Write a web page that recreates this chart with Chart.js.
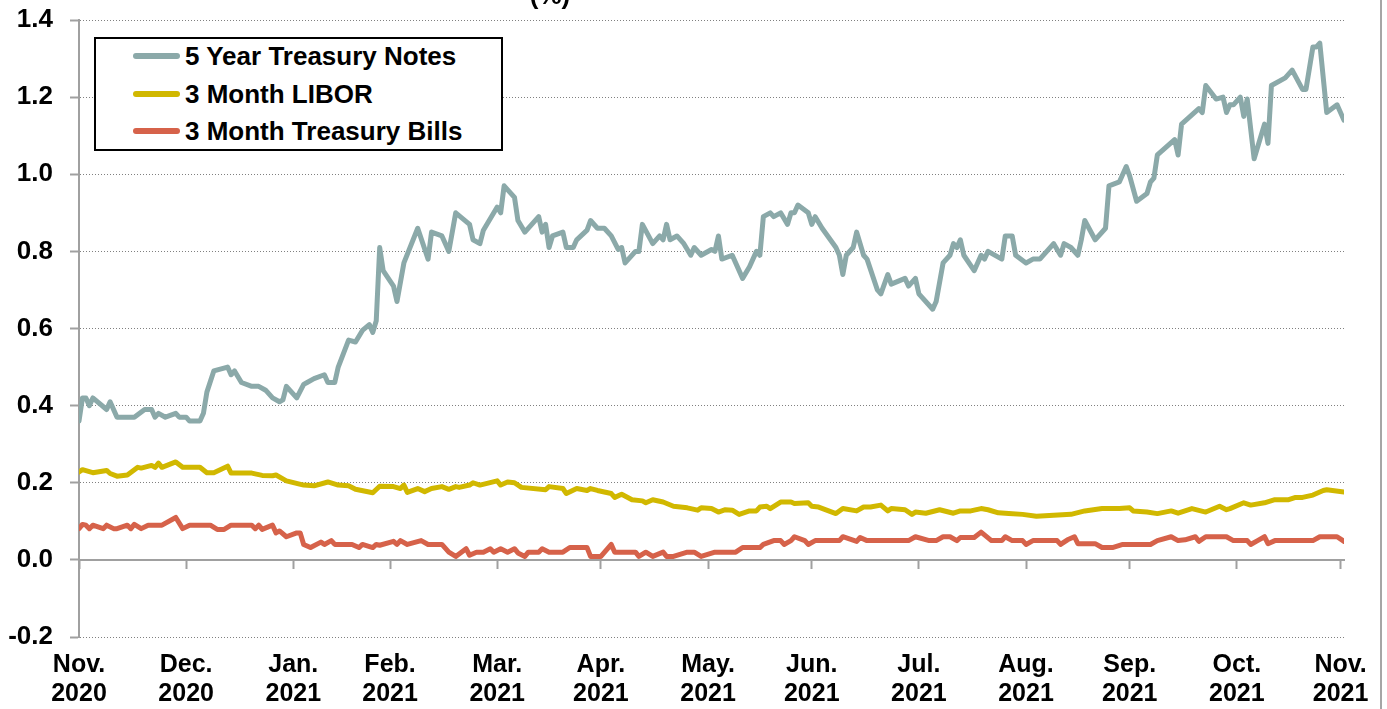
<!DOCTYPE html>
<html>
<head>
<meta charset="utf-8">
<script src="https://cdn.jsdelivr.net/npm/chart.js@4/dist/chart.umd.min.js"></script>
<style>
  html, body { margin: 0; padding: 0; background: #fff; }
  #wrap { position: relative; width: 1387px; height: 709px; overflow: hidden; background: #fff; }
  #chart { position: absolute; left: 0; top: 0; }
  #frame { position: absolute; left: 1380px; top: 0; width: 2px; height: 709px; background: #a6a6a6; }
  #title { position: absolute; top: -18px; left: 450px; width: 200px; text-align: center;
           font: bold 26px "Liberation Sans", Arial, sans-serif; line-height: 26px; color: #000; }
  #legend { position: absolute; left: 94px; top: 37px; width: 405px; height: 110px;
            border: 2px solid #000; background: #fff; box-sizing: content-box; }
  .row { position: absolute; left: 0; height: 30px; width: 100%; }
  .sw { position: absolute; left: 37px; top: 12px; width: 47px; height: 6px; border-radius: 3px; }
  .lb { position: absolute; left: 89px; top: 0; line-height: 30px; white-space: nowrap;
        font: bold 26px "Liberation Sans", Arial, sans-serif; color: #000; }
</style>
</head>
<body>
<div id="wrap">
  <canvas id="chart" width="1387" height="709"></canvas>
  <div id="title">(%)</div>
  <div id="legend"></div>
  <div id="frame"></div>
</div>
<script>
// ---- Data (x = days from the "Nov. 2020" tick) ----
const seriesNames = ["5 Year Treasury Notes", "3 Month LIBOR", "3 Month Treasury Bills"];

const monthTicks = [0, 31, 62, 90, 121, 151, 182, 212, 243, 274, 304, 335, 365];
const monthLabels = [
  ["Nov.", "2020"], ["Dec.", "2020"], ["Jan.", "2021"], ["Feb.", "2021"], ["Mar.", "2021"],
  ["Apr.", "2021"], ["May.", "2021"], ["Jun.", "2021"], ["Jul.", "2021"], ["Aug.", "2021"],
  ["Sep.", "2021"], ["Oct.", "2021"], ["Nov.", "2021"]
];

const noteDays = [0,1,2,3,4,8,9,11,16,19,21,22,23,25,28,29,31,32,35,36,37,39,43,44,45,47,50,52,54,56,58,59,60,63,65,66,68,71,72,74,75,78,80,82,84,85,86,87,88,91,92,94,98,101,102,105,107,109,113,114,116,117,121,122,123,126,127,129,131,133,134,135,136,137,140,141,143,144,147,148,150,152,154,156,157,158,161,162,163,166,168,169,170,171,173,175,177,178,180,183,184,185,186,189,192,194,196,197,198,200,201,203,205,206,207,208,211,212,213,215,219,220,221,222,224,225,227,228,231,232,234,235,239,240,242,243,247,248,250,252,253,254,255,256,259,261,262,263,267,268,270,271,274,276,278,282,284,285,287,289,290,291,294,297,298,301,303,304,306,309,310,311,312,317,318,319,324,325,326,329,331,332,333,334,336,337,338,340,343,344,345,349,351,354,355,357,358,359,361,364,366];
const noteVals = [0.36,0.42,0.42,0.40,0.42,0.39,0.41,0.37,0.37,0.39,0.39,0.37,0.38,0.37,0.38,0.37,0.37,0.36,0.36,0.38,0.435,0.49,0.50,0.48,0.49,0.46,0.45,0.45,0.44,0.42,0.41,0.415,0.45,0.42,0.455,0.46,0.47,0.48,0.46,0.46,0.50,0.57,0.565,0.595,0.61,0.59,0.62,0.81,0.75,0.71,0.67,0.77,0.86,0.78,0.85,0.84,0.80,0.90,0.87,0.83,0.82,0.855,0.915,0.90,0.97,0.94,0.88,0.85,0.87,0.89,0.85,0.87,0.81,0.84,0.85,0.81,0.81,0.83,0.855,0.88,0.86,0.86,0.84,0.805,0.81,0.77,0.80,0.80,0.87,0.82,0.84,0.83,0.87,0.83,0.84,0.82,0.79,0.81,0.79,0.805,0.80,0.84,0.78,0.79,0.73,0.76,0.80,0.79,0.89,0.90,0.89,0.90,0.87,0.90,0.90,0.92,0.90,0.87,0.89,0.86,0.81,0.79,0.74,0.79,0.81,0.85,0.79,0.78,0.70,0.69,0.74,0.715,0.73,0.71,0.73,0.69,0.65,0.67,0.77,0.79,0.82,0.81,0.83,0.79,0.75,0.79,0.78,0.80,0.78,0.84,0.84,0.79,0.77,0.78,0.78,0.82,0.79,0.82,0.81,0.79,0.83,0.88,0.83,0.86,0.97,0.98,1.02,0.995,0.93,0.95,0.98,0.99,1.05,1.09,1.05,1.13,1.17,1.16,1.23,1.195,1.20,1.16,1.18,1.18,1.20,1.15,1.195,1.04,1.13,1.08,1.23,1.25,1.27,1.22,1.22,1.33,1.33,1.34,1.16,1.18,1.14];

const liborDays = [0,1,4,8,9,11,14,17,18,21,22,23,24,28,30,35,37,39,43,44,50,53,56,57,60,65,68,72,75,78,80,85,87,91,93,94,95,98,100,102,105,107,109,110,113,114,116,121,122,124,126,128,135,136,140,141,144,147,148,150,154,155,157,160,163,164,166,169,172,176,179,180,183,185,187,189,191,194,196,197,199,200,203,206,207,211,212,214,219,221,225,227,229,232,234,235,239,241,242,245,249,253,255,258,261,263,266,269,273,277,282,287,291,296,301,304,305,309,312,316,318,322,326,330,332,333,337,339,343,346,350,352,354,357,360,361,366];
const liborVals = [0.228,0.234,0.226,0.232,0.224,0.217,0.22,0.24,0.238,0.245,0.24,0.251,0.24,0.254,0.24,0.24,0.226,0.226,0.243,0.225,0.225,0.219,0.218,0.22,0.205,0.194,0.192,0.202,0.194,0.192,0.183,0.174,0.191,0.19,0.185,0.194,0.175,0.185,0.177,0.185,0.19,0.183,0.19,0.188,0.194,0.2,0.194,0.205,0.194,0.202,0.2,0.188,0.182,0.19,0.185,0.172,0.185,0.18,0.185,0.18,0.172,0.162,0.17,0.156,0.153,0.148,0.156,0.15,0.139,0.135,0.129,0.135,0.133,0.124,0.13,0.129,0.118,0.127,0.127,0.137,0.139,0.133,0.15,0.15,0.146,0.148,0.139,0.137,0.12,0.133,0.127,0.137,0.137,0.142,0.127,0.133,0.13,0.118,0.124,0.121,0.13,0.121,0.127,0.127,0.133,0.13,0.122,0.12,0.118,0.113,0.116,0.118,0.127,0.133,0.133,0.135,0.127,0.124,0.12,0.127,0.121,0.133,0.124,0.139,0.13,0.133,0.148,0.142,0.148,0.156,0.156,0.162,0.162,0.168,0.18,0.182,0.176];

const billDays = [0,1,2,3,4,7,8,10,11,14,15,16,18,20,24,28,30,32,38,40,42,44,50,51,52,53,56,57,58,60,63,64,65,67,70,71,73,74,79,81,82,85,86,87,91,92,93,95,99,101,105,107,109,112,113,115,117,119,120,122,124,126,127,129,130,133,134,136,140,142,147,148,151,154,155,161,162,164,166,169,170,172,176,178,180,184,190,192,197,198,201,203,204,206,207,210,211,213,220,221,225,226,228,240,242,246,248,250,252,254,255,259,261,264,267,268,270,273,274,276,283,284,286,288,289,294,296,299,302,310,312,316,318,320,323,324,326,332,334,338,339,341,343,344,346,357,359,364,366];
const billVals = [0.081,0.092,0.09,0.081,0.09,0.081,0.09,0.081,0.081,0.09,0.081,0.092,0.081,0.09,0.09,0.11,0.081,0.09,0.09,0.079,0.079,0.09,0.09,0.081,0.09,0.079,0.09,0.07,0.075,0.06,0.07,0.07,0.04,0.032,0.046,0.04,0.05,0.04,0.04,0.032,0.04,0.032,0.04,0.038,0.048,0.04,0.05,0.04,0.05,0.04,0.04,0.02,0.009,0.029,0.012,0.02,0.02,0.029,0.02,0.029,0.02,0.029,0.018,0.009,0.02,0.02,0.029,0.02,0.02,0.032,0.032,0.009,0.009,0.04,0.02,0.02,0.009,0.02,0.009,0.02,0.009,0.009,0.02,0.02,0.009,0.02,0.02,0.032,0.032,0.04,0.05,0.05,0.04,0.05,0.06,0.05,0.04,0.05,0.05,0.06,0.048,0.058,0.05,0.05,0.06,0.05,0.05,0.06,0.06,0.05,0.058,0.058,0.072,0.05,0.05,0.06,0.05,0.05,0.04,0.05,0.05,0.04,0.052,0.06,0.042,0.042,0.032,0.032,0.04,0.04,0.05,0.06,0.05,0.052,0.06,0.048,0.06,0.06,0.05,0.05,0.04,0.05,0.06,0.042,0.05,0.05,0.06,0.06,0.048];

const seriesColors = ["#8ba9a9", "#d1b800", "#d6624a"];

// ---- Build chart ----
const FONT = '"Liberation Sans", Arial, sans-serif';
const toPts = (xs, ys) => xs.map((x, i) => ({ x: x, y: ys[i] }));
const allDays = [noteDays, liborDays, billDays];
const allVals = [noteVals, liborVals, billVals];

const datasets = seriesNames.map((name, i) => ({
  label: name,
  data: toPts(allDays[i], allVals[i]),
  borderColor: seriesColors[i],
  backgroundColor: seriesColors[i],
  borderWidth: 5,
  pointRadius: 0,
  tension: 0,
  borderJoinStyle: 'round',
  borderCapStyle: 'round',
  order: i,
  xAxisID: 'x',
  yAxisID: 'y'
}));

const setMonthTicks = s => { s.ticks = monthTicks.map(v => ({ value: v })); };

new Chart(document.getElementById('chart'), {
  type: 'line',
  data: { datasets: datasets },
  options: {
    responsive: false,
    devicePixelRatio: 1,
    animation: false,
    layout: { padding: { left: 0, right: 43, top: 20, bottom: 0 } },
    plugins: { legend: { display: false }, tooltip: { enabled: false }, title: { display: false } },
    scales: {
      x: {
        type: 'linear', position: 'bottom', min: 0, max: 366,
        afterBuildTicks: setMonthTicks,
        afterFit: s => { s.height = 72; },
        grid: { display: false, drawTicks: false },
        border: { display: false },
        ticks: {
          autoSkip: false, maxRotation: 0, minRotation: 0, padding: 14, color: '#000',
          font: { family: FONT, size: 25, weight: 'bold', lineHeight: 1.14 },
          callback: (v, i) => monthLabels[i]
        }
      },
      x0: {
        type: 'linear', position: { y: 0 }, min: 0, max: 366,
        afterBuildTicks: setMonthTicks,
        ticks: { display: false },
        grid: { display: true, drawOnChartArea: false, drawTicks: true, tickLength: 8,
                tickColor: '#a0a0a0', tickWidth: 2, color: '#a0a0a0' },
        border: { display: true, color: '#a0a0a0', width: 2 }
      },
      y: {
        type: 'linear', position: 'left', min: -0.2, max: 1.4,
        afterFit: s => { s.width = 79; s.paddingTop = 0; s.paddingBottom = 0; },
        ticks: {
          stepSize: 0.2, padding: 17, color: '#000',
          font: { family: FONT, size: 26, weight: 'bold' },
          callback: v => (Math.abs(v) < 1e-9 ? 0 : Number(v)).toFixed(1)
        },
        grid: { color: '#808080', lineWidth: 1, drawTicks: true, tickLength: 9,
                tickColor: '#a0a0a0', tickWidth: 2 },
        border: { display: true, color: '#a0a0a0', width: 2, dash: [1, 2] }
      }
    }
  }
});

// ---- HTML legend built from the datasets ----
const legend = document.getElementById('legend');
datasets.forEach((d, i) => {
  const row = document.createElement('div');
  row.className = 'row';
  row.style.top = (2 + i * 37.5) + 'px';
  const sw = document.createElement('span');
  sw.className = 'sw';
  sw.style.background = d.borderColor;
  const lb = document.createElement('span');
  lb.className = 'lb';
  lb.textContent = d.label;
  row.appendChild(sw);
  row.appendChild(lb);
  legend.appendChild(row);
});
</script>
</body>
</html>
